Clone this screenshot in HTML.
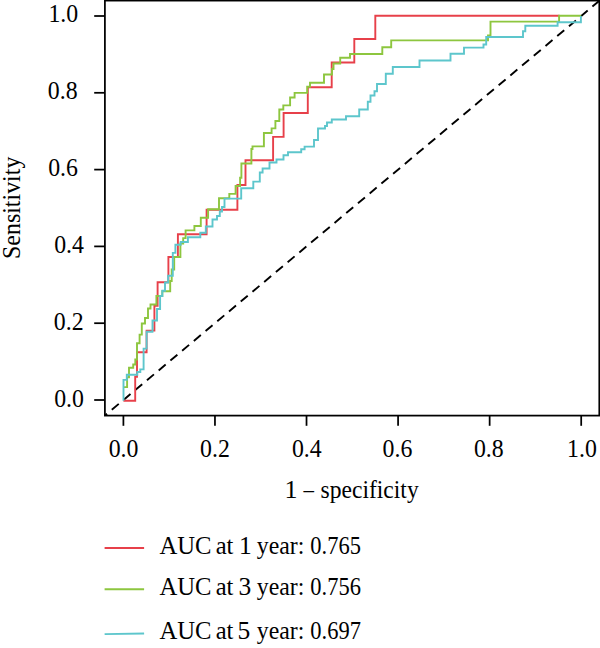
<!DOCTYPE html>
<html><head><meta charset="utf-8"><title>ROC</title>
<style>
html,body{margin:0;padding:0;background:#fff;}
body{width:600px;height:648px;overflow:hidden;}
svg{display:block;font-family:"Liberation Serif", "DejaVu Serif", serif;font-size:24px;fill:#000;}
</style></head><body>
<svg width="600" height="648" viewBox="0 0 600 648">
<rect width="600" height="648" fill="#fff"/>
<clipPath id="pc"><rect x="104.9" y="-0.4" width="495.4" height="416.0"/></clipPath>
<g clip-path="url(#pc)"><line x1="31.84" y1="476.80" x2="672.76" y2="-60.80" stroke="#000" stroke-width="1.9" stroke-dasharray="9.10 6.20" stroke-dashoffset="2.74"/></g>
<polyline points="123.4,400.8 135.2,400.8 135.2,376.7 137,376.7 137,352.2 146.6,352.2 146.6,330.6 154.4,330.6 154.4,305.8 157.6,305.8 157.6,282.3 168.4,282.3 168.4,257 177.9,257 177.9,234.3 206.6,234.3 206.6,209.8 237.4,209.8 237.4,185 245.5,185 245.5,160.2 273.1,160.2 273.1,136.9 283.6,136.9 283.6,113 307.8,113 307.8,87.2 331.7,87.2 331.7,62.5 354.3,62.5 354.3,39 375.3,39 375.3,15.8 559.6,15.8" fill="none" stroke="#E7404A" stroke-width="1.9" stroke-linejoin="miter"/>
<polyline points="123.5,387.1 127.1,387.1 127.1,377.4 129,377.4 129,367.7 133.2,367.7 133.2,364.5 135.3,364.5 135.3,359.5 137,359.5 137,343.2 139.6,343.2 139.6,334.6 141.8,334.6 141.8,323.5 145,323.5 145,318 148,318 148,308.5 150.5,308.5 150.5,304.5 156.4,304.5 156.4,296 162.3,296 162.3,291.3 170.2,291.3 170.2,281 171.7,281 171.7,269.5 174.2,269.5 174.2,257 180.4,257 180.4,243.5 183.2,243.5 183.2,238.1 185.6,238.1 185.6,230.4 194.4,230.4 194.4,226 200.8,226 200.8,217.8 208.1,217.8 208.1,209.2 219,209.2 219,198.2 229.3,198.2 229.3,193.9 235.6,193.9 235.6,186 240.1,186 240.1,177.8 241.4,177.8 241.4,163.5 251.4,163.5 251.4,149 252.5,149 252.5,146.4 263.9,146.4 263.9,133 271.6,133 271.6,128.4 275.4,128.4 275.4,121 279.3,121 279.3,109.5 283.3,109.5 283.3,105.4 290.1,105.4 290.1,97.5 294.6,97.5 294.6,92.9 307.2,92.9 307.2,86.8 310,86.8 310,82.8 324,82.8 324,74.5 332,74.5 332,69 333.5,69 333.5,63.5 340.2,63.5 340.2,57.8 350,57.8 350,54 382.3,54 382.3,47.2 391.2,47.2 391.2,40.4 488,40.4 488,35.5 490.5,35.5 490.5,21.6 559.1,21.6 559.1,15.8 581.2,15.8" fill="none" stroke="#8DC63F" stroke-width="1.9"/>
<polyline points="123.5,400.8 123.5,379.9 126.8,379.9 126.8,374.7 137.3,374.7 137.3,372 140.3,372 140.3,369.4 143.6,369.4 143.6,348.6 146.6,348.6 146.6,331.8 152.5,331.8 152.5,320.5 157,320.5 157,309 160.1,309 160.1,296 162.3,296 162.3,290.7 165,290.7 165,282.5 168.1,282.5 168.1,275.8 172.8,275.8 172.8,252.9 175.4,252.9 175.4,244.7 180.7,244.7 180.7,242 187.9,242 187.9,237.2 200.3,237.2 200.3,232.7 205.8,232.7 205.8,226.5 212.5,226.5 212.5,219.5 217,219.5 217,216 219.8,216 219.8,211.5 222,211.5 222,207 224.5,207 224.5,198.6 241.2,198.6 241.2,188.3 253.3,188.3 253.3,181.6 259.8,181.6 259.8,172.5 262.6,172.5 262.6,168.5 269.5,168.5 269.5,162.5 276.5,162.5 276.5,159.5 283.5,159.5 283.5,155.2 288,155.2 288,152.2 301.2,152.2 301.2,149.2 304.6,149.2 304.6,146.6 314,146.6 314,140 318,140 318,128.5 325,128.5 325,126 327,126 327,122.5 331.8,122.5 331.8,119.5 346,119.5 346,116.2 359.2,116.2 359.2,109.5 367.8,109.5 367.8,101.8 370.5,101.8 370.5,95.5 374.5,95.5 374.5,91.2 377,91.2 377,84 385.8,84 385.8,73.7 392.8,73.7 392.8,67 419.5,67 419.5,60.5 450.5,60.5 450.5,53.8 464,53.8 464,47.6 483.5,47.6 483.5,44.5 486.2,44.5 486.2,37 523,37 523,31.3 525.3,31.3 525.3,25.8 557.6,25.8 557.6,22.3 580.9,22.3 580.9,16" fill="none" stroke="#5DC6CC" stroke-width="1.9"/>
<rect x="104.9" y="0.6" width="494.4" height="415.0" fill="none" stroke="#000" stroke-width="1.75"/>
<line x1="94.2" y1="400.00" x2="104.9" y2="400.00" stroke="#000" stroke-width="1.75"/>
<line x1="94.2" y1="323.20" x2="104.9" y2="323.20" stroke="#000" stroke-width="1.75"/>
<line x1="94.2" y1="246.40" x2="104.9" y2="246.40" stroke="#000" stroke-width="1.75"/>
<line x1="94.2" y1="169.60" x2="104.9" y2="169.60" stroke="#000" stroke-width="1.75"/>
<line x1="94.2" y1="92.80" x2="104.9" y2="92.80" stroke="#000" stroke-width="1.75"/>
<line x1="94.2" y1="16.00" x2="104.9" y2="16.00" stroke="#000" stroke-width="1.75"/>
<line x1="123.40" y1="415.6" x2="123.40" y2="425.8" stroke="#000" stroke-width="1.75"/>
<line x1="214.96" y1="415.6" x2="214.96" y2="425.8" stroke="#000" stroke-width="1.75"/>
<line x1="306.52" y1="415.6" x2="306.52" y2="425.8" stroke="#000" stroke-width="1.75"/>
<line x1="398.08" y1="415.6" x2="398.08" y2="425.8" stroke="#000" stroke-width="1.75"/>
<line x1="489.64" y1="415.6" x2="489.64" y2="425.8" stroke="#000" stroke-width="1.75"/>
<line x1="581.20" y1="415.6" x2="581.20" y2="425.8" stroke="#000" stroke-width="1.75"/>
<text transform="translate(78.20 21.80) scale(0.9850 1)" font-size="24.2" text-anchor="end">1.0</text>
<text transform="translate(77.60 99.00) scale(0.9850 1)" font-size="24.2" text-anchor="end">0.8</text>
<text transform="translate(77.90 176.20) scale(0.9850 1)" font-size="24.2" text-anchor="end">0.6</text>
<text transform="translate(83.90 252.80) scale(0.9850 1)" font-size="24.2" text-anchor="end">0.4</text>
<text transform="translate(83.60 329.50) scale(0.9850 1)" font-size="24.2" text-anchor="end">0.2</text>
<text transform="translate(83.90 406.80) scale(0.9850 1)" font-size="24.2" text-anchor="end">0.0</text>
<text transform="translate(123.60 457.00) scale(0.9850 1)" font-size="24.2" text-anchor="middle">0.0</text>
<text transform="translate(214.90 457.00) scale(0.9850 1)" font-size="24.2" text-anchor="middle">0.2</text>
<text transform="translate(306.80 457.00) scale(0.9850 1)" font-size="24.2" text-anchor="middle">0.4</text>
<text transform="translate(397.40 457.00) scale(0.9850 1)" font-size="24.2" text-anchor="middle">0.6</text>
<text transform="translate(488.80 457.00) scale(0.9850 1)" font-size="24.2" text-anchor="middle">0.8</text>
<text transform="translate(581.90 457.00) scale(0.9850 1)" font-size="24.2" text-anchor="middle">1.0</text>
<text transform="translate(20.10 207.80) rotate(-90) scale(0.9200 1)" font-size="26" text-anchor="middle">Sensitivity</text>
<text transform="translate(159.50 553.80) scale(0.9673 1)" font-size="25.5" text-anchor="start">AUC</text>
<text transform="translate(215.64 553.80) scale(0.9647 1)" font-size="25.5" text-anchor="start">at</text>
<text x="239.00" y="553.80" font-size="25.5" text-anchor="start">1</text>
<text transform="translate(256.77 553.80) scale(0.9333 1)" font-size="25.5" text-anchor="start">year:</text>
<text transform="translate(310.32 553.80) scale(0.8821 1)" font-size="25.5" text-anchor="start">0.765</text>
<text transform="translate(159.50 594.50) scale(0.9673 1)" font-size="25.5" text-anchor="start">AUC</text>
<text transform="translate(215.64 594.50) scale(0.9647 1)" font-size="25.5" text-anchor="start">at</text>
<text x="238.50" y="594.50" font-size="25.5" text-anchor="start">3</text>
<text transform="translate(256.77 594.50) scale(0.9333 1)" font-size="25.5" text-anchor="start">year:</text>
<text transform="translate(310.32 594.50) scale(0.8821 1)" font-size="25.5" text-anchor="start">0.756</text>
<text transform="translate(159.50 638.80) scale(0.9673 1)" font-size="25.5" text-anchor="start">AUC</text>
<text transform="translate(215.64 638.80) scale(0.9647 1)" font-size="25.5" text-anchor="start">at</text>
<text x="237.60" y="638.80" font-size="25.5" text-anchor="start">5</text>
<text transform="translate(256.77 638.80) scale(0.9333 1)" font-size="25.5" text-anchor="start">year:</text>
<text transform="translate(310.32 638.80) scale(0.8821 1)" font-size="25.5" text-anchor="start">0.697</text>
<text x="284.50" y="497.60" font-size="26" text-anchor="start">1</text>
<text transform="translate(303.50 497.60) scale(0.8077 1)" font-size="26" text-anchor="start">–</text>
<text transform="translate(320.59 497.60) scale(0.9065 1)" font-size="26" text-anchor="start">specificity</text>
<line x1="104.6" y1="548.0" x2="144.1" y2="548.0" stroke="#E7404A" stroke-width="1.9"/>
<line x1="104.6" y1="589.3" x2="144.1" y2="589.3" stroke="#8DC63F" stroke-width="1.9"/>
<line x1="104.6" y1="634.1" x2="144.1" y2="633.5" stroke="#5DC6CC" stroke-width="1.9"/>
</svg>
</body></html>
